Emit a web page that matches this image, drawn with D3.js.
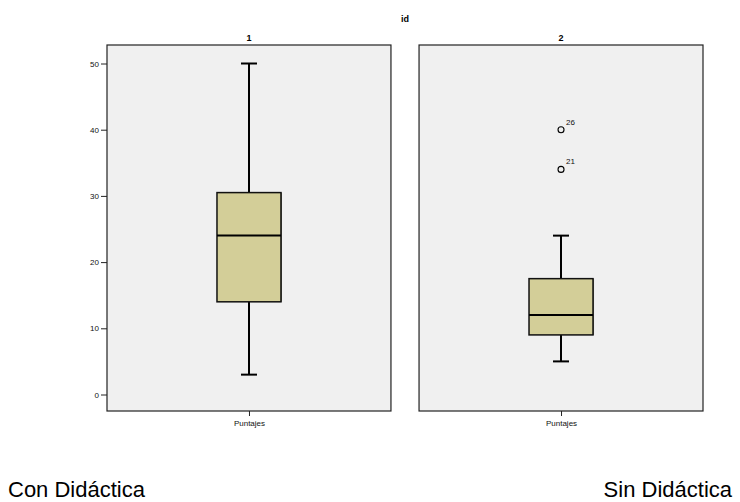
<!DOCTYPE html>
<html>
<head>
<meta charset="utf-8">
<script src="https://cdn.jsdelivr.net/npm/d3@7"></script>
<style>
  body { margin: 0; background: #fff; }
  svg { display: block; font-family: "Liberation Sans", Arial, sans-serif; }
</style>
</head>
<body>
<svg id="chart" width="740" height="502"></svg>
<script>
// Boxplot summaries of "Puntajes" split by id
const groups = ["1", "2"];
const whiskerLow = [3, 5];
const quartile1 = [14, 9];
const medians = [24, 12];
const quartile3 = [30.5, 17.5];
const whiskerHigh = [50, 24];
const outlierGroup = ["2", "2"];
const outlierValues = [40, 34];
const outlierCases = ["26", "21"];
const yTicks = [0, 10, 20, 30, 40, 50];
const variableName = "Puntajes";
const facetTitle = "id";
const captions = ["Con Didáctica", "Sin Didáctica"];

const svg = d3.select("#chart");

const panelTop = 45, panelBottom = 411;
const panel = d3.scaleBand().domain(groups).range([107, 703]).paddingInner(0.09);
const y = d3.scaleLinear().domain([0, 50]).range([394.5, 63.5]);
const boxWidth = 64, capWidth = 16;

svg.append("text")
  .attr("x", 405).attr("y", 22)
  .attr("text-anchor", "middle")
  .attr("font-size", 9).attr("font-weight", "bold")
  .text(facetTitle);

groups.forEach((g, i) => {
  const x0 = panel(g), w = panel.bandwidth();
  const cx = x0 + w / 2;
  const p = svg.append("g");

  p.append("rect")
    .attr("x", x0).attr("y", panelTop)
    .attr("width", w).attr("height", panelBottom - panelTop)
    .attr("fill", "#f0f0f0").attr("stroke", "#222").attr("stroke-width", 1.2);

  p.append("text")
    .attr("x", cx).attr("y", 41)
    .attr("text-anchor", "middle")
    .attr("font-size", 9).attr("font-weight", "bold")
    .text(g);

  // whisker stems
  p.append("line")
    .attr("x1", cx).attr("x2", cx)
    .attr("y1", y(whiskerHigh[i])).attr("y2", y(quartile3[i]))
    .attr("stroke", "#000").attr("stroke-width", 2);
  p.append("line")
    .attr("x1", cx).attr("x2", cx)
    .attr("y1", y(quartile1[i])).attr("y2", y(whiskerLow[i]))
    .attr("stroke", "#000").attr("stroke-width", 2);
  // caps
  [whiskerHigh[i], whiskerLow[i]].forEach(v => {
    p.append("line")
      .attr("x1", cx - capWidth / 2).attr("x2", cx + capWidth / 2)
      .attr("y1", y(v)).attr("y2", y(v))
      .attr("stroke", "#000").attr("stroke-width", 2);
  });

  // box shadow on the right edge
  p.append("rect")
    .attr("x", cx - boxWidth / 2 + 1).attr("y", y(quartile3[i]))
    .attr("width", boxWidth).attr("height", y(quartile1[i]) - y(quartile3[i]))
    .attr("fill", "#7a7868");
  p.append("rect")
    .attr("x", cx - boxWidth / 2).attr("y", y(quartile3[i]))
    .attr("width", boxWidth).attr("height", y(quartile1[i]) - y(quartile3[i]))
    .attr("fill", "#d3ce98").attr("stroke", "#111").attr("stroke-width", 1.5);
  p.append("line")
    .attr("x1", cx - boxWidth / 2).attr("x2", cx + boxWidth / 2)
    .attr("y1", y(medians[i])).attr("y2", y(medians[i]))
    .attr("stroke", "#000").attr("stroke-width", 2);

  // x axis below the panel
  const xAxis = d3.axisBottom(d3.scalePoint().domain([variableName]).range([cx, cx]))
    .tickSize(5).tickPadding(4);
  const ax = p.append("g").attr("transform", `translate(0,${panelBottom})`).call(xAxis);
  ax.select(".domain").remove();
  ax.selectAll("text").attr("font-size", 8).attr("fill", "#111")
    .attr("font-family", "Liberation Sans, Arial, sans-serif");
  ax.selectAll("line").attr("stroke", "#222");
});

// outliers
outlierValues.forEach((v, k) => {
  const g = outlierGroup[k];
  const cx = panel(g) + panel.bandwidth() / 2;
  svg.append("circle")
    .attr("cx", cx).attr("cy", y(v)).attr("r", 3)
    .attr("fill", "none").attr("stroke", "#000").attr("stroke-width", 1.1);
  svg.append("text")
    .attr("x", cx + 5).attr("y", y(v) - 5)
    .attr("font-size", 8).attr("fill", "#111")
    .text(outlierCases[k]);
});

// y axis on the first panel
const yAxis = d3.axisLeft(y).tickValues(yTicks).tickSize(6).tickPadding(2);
const ya = svg.append("g").attr("transform", `translate(${panel(groups[0])},0)`).call(yAxis);
ya.select(".domain").remove();
ya.selectAll("text").attr("font-size", 8).attr("fill", "#111")
  .attr("font-family", "Liberation Sans, Arial, sans-serif");
ya.selectAll("line").attr("stroke", "#222");

// captions under the chart
svg.append("text")
  .attr("x", 8).attr("y", 497)
  .attr("font-size", 22).attr("fill", "#000")
  .text(captions[0]);
svg.append("text")
  .attr("x", 732).attr("y", 497)
  .attr("text-anchor", "end")
  .attr("font-size", 22).attr("fill", "#000")
  .text(captions[1]);
</script>
</body>
</html>
